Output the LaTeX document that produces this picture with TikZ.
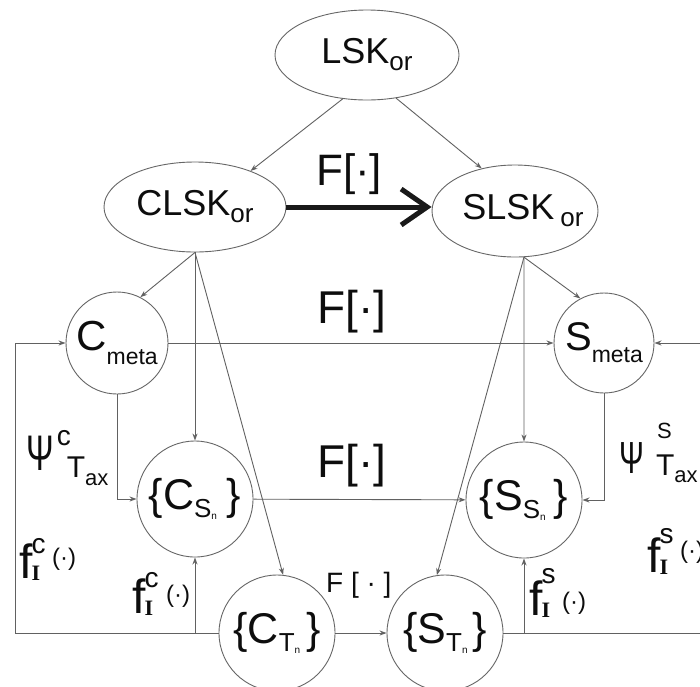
\documentclass[tikz,border=0pt]{standalone}
\usepackage{fontspec}
\setmainfont{Liberation Sans}
\newfontfamily\serifI{Liberation Serif}
\usetikzlibrary{arrows.meta,shapes.geometric}

\newcommand\fsz[1]{\fontsize{#1}{#1}\selectfont}
\newcommand\ctr[1]{\makebox[0pt]{#1}}
% f^x_I(.) : #1 superscript, #2 its raise, #3 gap before (.), #4 raise of (.)
\newcommand\fIlab[4]{{\fsz{48}f}\kern-1pt\rlap{\raisebox{#2}{\fsz{28}#1}}\raisebox{-2pt}{\fsz{22}\serifI\bfseries I}\hspace{#3}\raisebox{#4}{\fsz{24}(·)}}
% set of sub-items {X_{Y_n}}
\newcommand\setlab[3]{\fsz{43}\{#1\raisebox{-8pt}{\fsz{26}#2\raisebox{-2pt}{\fsz{10}n}}\hspace{#3}\}}

\begin{document}
\begin{tikzpicture}[x=1pt,y=-1pt,
  wire/.style={draw=black!62,line width=0.9pt},
  arr/.style={wire,-{Stealth[length=7pt,width=5pt]}},
  oval/.style={ellipse,draw=black!60,line width=0.9pt,inner sep=0pt,text=black!95},
  ring/.style={circle,draw=black!60,line width=0.9pt,inner sep=0pt,text=black!95},
  lbl/.style={inner sep=0pt,text=black!95,anchor=base west},
  bigarr/.style={draw=black!90,line width=5pt,-{Straight Barb[length=26pt,width=36pt,line width=5pt]}}]
\useasboundingbox (0,0) rectangle (700,686);
\clip (0,0) rectangle (700,686);
\fill[white] (0,0) rectangle (700,686);

% ontology nodes
\node[oval,minimum width=184pt,minimum height=90pt] (lsk) at (367,55)
  {\ctr{\fsz{36}LSK\raisebox{-7pt}{\fsz{26}or}}};
\node[oval,minimum width=182pt,minimum height=90pt] (clsk) at (195,207)
  {\ctr{\fsz{36}CLSK\raisebox{-7pt}{\fsz{26}or}}};
\node[oval,minimum width=166pt,minimum height=92pt] (slsk) at (515,211)
  {\ctr{\hspace{16pt}\fsz{36}SLSK\,\raisebox{-7pt}{\fsz{26}or}}};

% meta-level and item-level nodes
\node[ring,minimum size=102pt] (cmeta) at (117,343)
  {\ctr{\fsz{42}C\raisebox{-14pt}{\fsz{23}meta}}};
\node[ring,minimum size=100pt] (smeta) at (604,343)
  {\ctr{\fsz{40}S\raisebox{-12pt}{\fsz{23}meta}}};
\node[ring,minimum size=116pt] (csn) at (195,499)
  {\ctr{\setlab{C}{S}{10pt}}};
\node[ring,minimum size=116pt] (ssn) at (524,500)
  {\ctr{\setlab{S}{S}{8pt}}};
\node[ring,minimum size=116pt] (ctn) at (277,633)
  {\ctr{\setlab{C}{T}{6pt}}};
\node[ring,minimum size=116pt] (stn) at (445,633)
  {\ctr{\setlab{S}{T}{5pt}}};

% coordinates for branch points and the outer feedback loops
\coordinate (cfoot) at (clsk.south);
\coordinate (sfoot) at (slsk.281);
\coordinate (lbot) at (15,633);
\coordinate (rbot) at (720,633);
\coordinate (cjoin) at (csn.south |- ctn.center);
\coordinate (sjoin) at (ssn.south |- stn.center);

% top level
\draw[arr] (lsk.241) -- (clsk.33);
\draw[arr] (lsk.304) -- (slsk.128);
\draw[bigarr] (clsk.east) -- (slsk.west |- clsk.east);

% from CLSK / SLSK downwards
\draw[arr] (cfoot) -- (cmeta.63);
\draw[arr] (cfoot) -- (csn.north);
\draw[arr] (cfoot) -- (ctn.84);
\draw[arr] (sfoot) -- (smeta.118);
\draw[arr] (sfoot) -- (ssn.north);
\draw[arr] (sfoot) -- (stn.98);

% mappings between the two sides
\draw[arr] (cmeta.east) -- (smeta.west);
\draw[arr] (csn) -- (ssn);
\draw[arr] (ctn) -- (stn);

% taxonomy links
\draw[arr] (cmeta.south) |- (csn.west);
\draw[arr] (smeta.south) |- (ssn.east);

% instance feedback
\draw[arr] (ctn.west) -- (lbot) |- (cmeta.west);
\draw[arr] (cjoin) -- (csn.south);
\draw[arr] (stn.east) -- (rbot) |- (smeta.east);
\draw[arr] (sjoin) -- (ssn.south);

% labels
\node[lbl] (f1) at (316,185) {\fsz{44}F[·]};
\node[lbl] (f2) at (317,323) {\fsz{46}F[·]};
\node[lbl] (f3) at (317,477) {\fsz{46}F[·]};
\node[lbl] (f4) at (326,592) {\fsz{28}F [ · ]};

\node[lbl] (psic) at (26,470)
  {\scalebox{0.66}[1]{\fsz{50}Ψ}\rlap{\hspace{3pt}\raisebox{25pt}{\fsz{28}c}}\hspace{13pt}\raisebox{-7pt}{\fsz{30}T\raisebox{-8pt}{\fsz{22}ax}}};
\node[lbl] (psis) at (619,473)
  {\scalebox{0.66}[1]{\fsz{45}Ψ}\rlap{\hspace{13pt}\raisebox{35pt}{\fsz{22}S}}\hspace{12pt}\raisebox{-2pt}{\fsz{30}T\raisebox{-7pt}{\fsz{22}ax}}};

\node[lbl] (fic1) at (19,578) {\fIlab{c}{25pt}{12pt}{13pt}};
\node[lbl] (fic2) at (132,613) {\fIlab{c}{26pt}{13pt}{11pt}};
\node[lbl] (fis1) at (529,615) {\fIlab{s}{32pt}{12pt}{6pt}};
\node[lbl] (fis2) at (647,572) {\fIlab{s}{29pt}{12pt}{14pt}};
\end{tikzpicture}
\end{document}
